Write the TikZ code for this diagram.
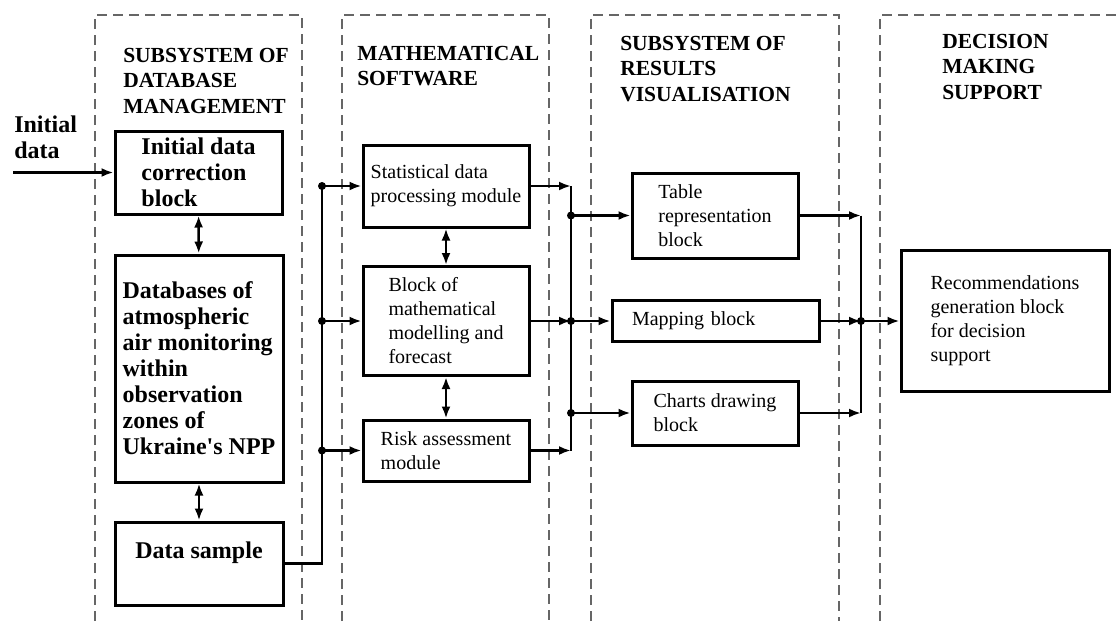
\documentclass[tikz,border=0pt]{standalone}
\usepackage{fontspec}
\setmainfont{Liberation Serif}
\usetikzlibrary{arrows.meta}
\begin{document}
\begin{tikzpicture}[x=1pt, y=-1pt, >={Latex[length=12pt,width=9pt]}, line width=2.5pt,
    box/.style={draw, line width=3pt, align=left, inner sep=0pt, font=\fontsize{20}{24}\selectfont},
    boldbox/.style={box, font=\fontsize{24}{26}\bfseries\selectfont},
    panel/.style={draw=black!60, line width=2.2pt, dash pattern=on 10pt off 6pt},
    title/.style={anchor=north west, align=left, inner sep=0pt, font=\fontsize{21.5}{25.5}\bfseries\selectfont},
    dot/.style={circle, fill, inner sep=0pt, minimum size=8pt}]
    \useasboundingbox (0,0) rectangle (1118,621);

    % dashed subsystem frames
    \draw[panel] (95,621) |- (302,15) -- (302,621);
    \draw[panel] (342,621) |- (549,15) -- (549,621);
    \draw[panel] (591,621) |- (839,15) -- (839,621);
    \draw[panel] (880,621) |- (1118,15);

    \node[title] (t1) at (122,47) {SUBSYSTEM OF\\DATABASE\\MANAGEMENT};
    \node[title] (t2) at (356,45) {MATHEMATICAL\\SOFTWARE};
    \node[title] (t3) at (619,35) {SUBSYSTEM OF\\RESULTS\\VISUALISATION};
    \node[title] (t4) at (941,33) {DECISION\\MAKING\\SUPPORT};
    \node[title, font=\fontsize{24}{26}\bfseries\selectfont] (input) at (13,115) {Initial\\data};

    % blocks
    \node[boldbox, minimum width=167, minimum height=83] (corr) at (198.5,172.5) {Initial data\\correction\\block};
    \node[boldbox, minimum width=168, minimum height=227] (dbase) at (199,368.5) {Databases of\\atmospheric\\air monitoring\\within\\observation\\zones of\\Ukraine\textquotesingle s NPP};
    \node[boldbox, align=center, minimum width=168, minimum height=83] (sample) at (199,563.5) {Data sample\\\mbox{}};

    \node[box, minimum width=166, minimum height=82] (stat) at (446,186) {Statistical data\\processing module};
    \node[box, minimum width=166, minimum height=109] (math) at (446,321) {Block of\\mathematical\\modelling and\\forecast};
    \node[box, minimum width=166, minimum height=61] (risk) at (446,450.5) {Risk assessment\\module};

    \node[box, minimum width=166, minimum height=85] (table) at (715,215.5) {Table\\representation\\block};
    \node[box, text width=167pt, inner xsep=20pt, minimum height=41] (mapping) at (715.5,321) {Mapping block};
    \node[box, minimum width=166, minimum height=64] (charts) at (715,413) {Charts drawing\\block};

    \node[box, minimum width=208, minimum height=141] (rec) at (1005,321) {Recommendations\\generation block\\for decision\\support};

    \coordinate (lbus) at (322,0);
    \coordinate (mbus) at (571,0);
    \coordinate (rbus) at (861,0);

    % connectors
    \draw[->] (input.west |- corr.west) -- (corr.west);
    \draw[<->] (corr) -- (dbase);
    \draw[<->] (dbase) -- (sample);
    \draw[<->] (stat) -- (math);
    \draw[<->] (math) -- (risk);

    \draw (sample.east) -| (stat.west -| lbus);
    \draw[->] (stat.west -| lbus) -- (stat.west);
    \draw[->] (math.west -| lbus) -- (math.west);
    \draw[->] (risk.west -| lbus) -- (risk.west);
    \node[dot] at (stat.west -| lbus) {};
    \node[dot] at (math.west -| lbus) {};
    \node[dot] at (risk.west -| lbus) {};

    \draw (stat.east -| mbus) -- (risk.east -| mbus);
    \draw[->] (stat.east) -- (stat.east -| mbus);
    \draw[->] (math.east) -- (math.east -| mbus);
    \draw[->] (risk.east) -- (risk.east -| mbus);
    \draw[->] (table.west -| mbus) -- (table.west);
    \draw[->] (mapping.west -| mbus) -- (mapping.west);
    \draw[->] (charts.west -| mbus) -- (charts.west);
    \node[dot] at (table.west -| mbus) {};
    \node[dot] at (mapping.west -| mbus) {};
    \node[dot] at (charts.west -| mbus) {};

    \draw (table.east -| rbus) -- (charts.east -| rbus);
    \draw[->] (table.east) -- (table.east -| rbus);
    \draw[->] (mapping.east) -- (mapping.east -| rbus);
    \draw[->] (charts.east) -- (charts.east -| rbus);
    \draw[->] (mapping.east -| rbus) -- (rec.west);
    \node[dot] at (mapping.east -| rbus) {};
\end{tikzpicture}
\end{document}
